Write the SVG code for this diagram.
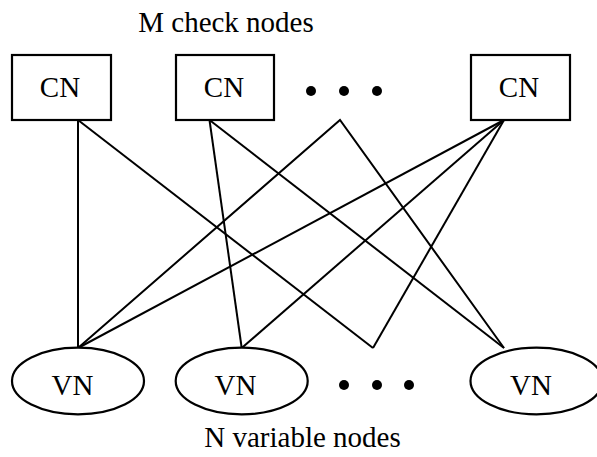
<svg xmlns="http://www.w3.org/2000/svg" width="597" height="457" viewBox="0 0 597 457">
<style>
.box{fill:#fff;stroke:#000;stroke-width:2.2}
.node{fill:#fff;stroke:#000;stroke-width:2.2}
.lbl{font-family:"Liberation Serif","Times New Roman",serif;font-size:29px;fill:#000;text-anchor:middle}
.edge{stroke:#000;stroke-width:2;fill:none}
.dot{fill:#000}
</style>
<rect width="597" height="457" fill="#fff"/>
<g id="connectors">
<line class="edge" x1="78" y1="120" x2="78" y2="348"/>
<line class="edge" x1="78" y1="120" x2="373" y2="348"/>
<line class="edge" x1="209.5" y1="120" x2="241.7" y2="348"/>
<line class="edge" x1="209.5" y1="120" x2="504" y2="348"/>
<polyline class="edge" points="78,348 340,120 504,348"/>
<line class="edge" x1="504" y1="120" x2="78" y2="348"/>
<line class="edge" x1="504" y1="120" x2="241.7" y2="348"/>
<line class="edge" x1="504" y1="120" x2="373" y2="348"/>
</g>
<g id="cn1"><rect class="box" x="12" y="55" width="99" height="65"/><text class="lbl" x="60" y="97">CN</text></g>
<g id="cn2"><rect class="box" x="176" y="55" width="98" height="65"/><text class="lbl" x="224" y="97">CN</text></g>
<g id="cn3"><rect class="box" x="471" y="55" width="99" height="65"/><text class="lbl" x="519" y="97">CN</text></g>
<g id="dots-top"><circle class="dot" cx="311" cy="91" r="5"/><circle class="dot" cx="344" cy="91" r="5"/><circle class="dot" cx="377" cy="91" r="5"/></g>
<g id="vn1"><ellipse class="node" cx="78" cy="381" rx="66" ry="33.3"/><text class="lbl" x="72.5" y="395">VN</text></g>
<g id="vn2"><ellipse class="node" cx="241.7" cy="381" rx="66" ry="33.3"/><text class="lbl" x="235.5" y="395">VN</text></g>
<g id="vn3"><ellipse class="node" cx="536.5" cy="381" rx="66" ry="33.3"/><text class="lbl" x="531" y="395">VN</text></g>
<g id="dots-bottom"><circle class="dot" cx="344" cy="385" r="5"/><circle class="dot" cx="377" cy="385" r="5"/><circle class="dot" cx="409" cy="385" r="5"/></g>
<text class="lbl" x="226" y="32">M check nodes</text>
<text class="lbl" x="302.5" y="446.5">N variable nodes</text>
</svg>
